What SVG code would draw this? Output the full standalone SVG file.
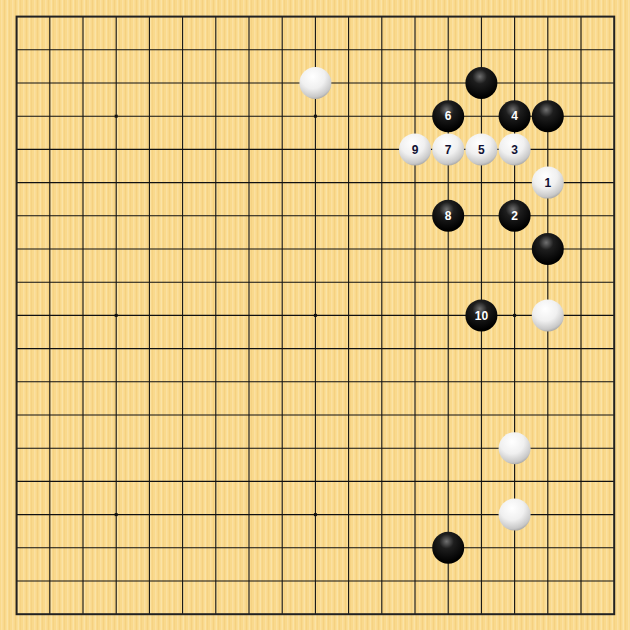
<svg xmlns="http://www.w3.org/2000/svg" width="630" height="630" viewBox="0 0 630 630">
<defs>
<pattern id="wood" x="0" y="0" width="11" height="630" patternUnits="userSpaceOnUse">
<rect width="11" height="630" fill="#F9D98C"/>
<rect x="1" width="1.5" height="630" fill="#FBE0A0"/>
<rect x="4" width="1" height="630" fill="#F5D080"/>
<rect x="6.5" width="1.5" height="630" fill="#FBE3A6"/>
<rect x="9" width="1" height="630" fill="#F6D283"/>
</pattern>
<radialGradient id="gb" cx="0.45" cy="0.3" r="0.65">
<stop offset="0" stop-color="#707070"/>
<stop offset="0.35" stop-color="#1e1e1e"/>
<stop offset="1" stop-color="#000"/>
</radialGradient>
<radialGradient id="gw" cx="0.42" cy="0.3" r="0.75">
<stop offset="0" stop-color="#fff"/>
<stop offset="0.5" stop-color="#f0f0f0"/>
<stop offset="0.85" stop-color="#c8c8c8"/>
<stop offset="1" stop-color="#9a9a9a"/>
</radialGradient>
<style>
.g{stroke:#111;stroke-width:1.1;fill:none}
.b{fill:url(#gb)}
.w{fill:url(#gw)}
.s{fill:#111}
.n{font-family:"Liberation Sans",Arial,sans-serif;font-size:12px;font-weight:bold;text-anchor:middle}
.nb{fill:#fff}
.nw{fill:#111133}
</style>
</defs>
<rect width="630" height="630" fill="url(#wood)"/>
<g id="grid">
<path class="g" d="M16.6 49.8H614.2M16.6 83H614.2M16.6 116.2H614.2M16.6 149.4H614.2M16.6 182.6H614.2M16.6 215.8H614.2M16.6 249H614.2M16.6 282.2H614.2M16.6 315.4H614.2M16.6 348.6H614.2M16.6 381.8H614.2M16.6 415H614.2M16.6 448.2H614.2M16.6 481.4H614.2M16.6 514.6H614.2M16.6 547.8H614.2M16.6 581H614.2"/>
<path class="g" d="M49.8 16.6V614.2M83 16.6V614.2M116.2 16.6V614.2M149.4 16.6V614.2M182.6 16.6V614.2M215.8 16.6V614.2M249 16.6V614.2M282.2 16.6V614.2M315.4 16.6V614.2M348.6 16.6V614.2M381.8 16.6V614.2M415 16.6V614.2M448.2 16.6V614.2M481.4 16.6V614.2M514.6 16.6V614.2M547.8 16.6V614.2M581 16.6V614.2"/>
<rect x="16.6" y="16.6" width="597.6" height="597.6" fill="none" stroke="#222" stroke-width="2"/>
<g class="s">
<rect x="114.7" y="114.7" width="3" height="3"/><rect x="313.9" y="114.7" width="3" height="3"/><rect x="513.1" y="114.7" width="3" height="3"/>
<rect x="114.7" y="313.9" width="3" height="3"/><rect x="313.9" y="313.9" width="3" height="3"/><rect x="513.1" y="313.9" width="3" height="3"/>
<rect x="114.7" y="513.1" width="3" height="3"/><rect x="313.9" y="513.1" width="3" height="3"/><rect x="513.1" y="513.1" width="3" height="3"/>
</g>
</g>
<g id="stones">
<g id="w-j3"><circle class="w" cx="315.4" cy="83" r="16"/></g>
<g id="b-p3"><circle class="b" cx="481.4" cy="83" r="16"/></g>
<g id="b6"><circle class="b" cx="448.2" cy="116.2" r="16"/><text class="n nb" x="448.2" y="120.4">6</text></g>
<g id="b4"><circle class="b" cx="514.6" cy="116.2" r="16"/><text class="n nb" x="514.6" y="120.4">4</text></g>
<g id="b-r4"><circle class="b" cx="547.8" cy="116.2" r="16"/></g>
<g id="w9"><circle class="w" cx="415" cy="149.4" r="16"/><text class="n nw" x="415" y="153.6">9</text></g>
<g id="w7"><circle class="w" cx="448.2" cy="149.4" r="16"/><text class="n nw" x="448.2" y="153.6">7</text></g>
<g id="w5"><circle class="w" cx="481.4" cy="149.4" r="16"/><text class="n nw" x="481.4" y="153.6">5</text></g>
<g id="w3"><circle class="w" cx="514.6" cy="149.4" r="16"/><text class="n nw" x="514.6" y="153.6">3</text></g>
<g id="w1"><circle class="w" cx="547.8" cy="182.6" r="16"/><text class="n nw" x="547.8" y="186.8">1</text></g>
<g id="b8"><circle class="b" cx="448.2" cy="215.8" r="16"/><text class="n nb" x="448.2" y="220">8</text></g>
<g id="b2"><circle class="b" cx="514.6" cy="215.8" r="16"/><text class="n nb" x="514.6" y="220">2</text></g>
<g id="b-r8"><circle class="b" cx="547.8" cy="249" r="16"/></g>
<g id="b10"><circle class="b" cx="481.4" cy="315.4" r="16"/><text class="n nb" x="481.4" y="319.6">10</text></g>
<g id="w-r10"><circle class="w" cx="547.8" cy="315.4" r="16"/></g>
<g id="w-q14"><circle class="w" cx="514.6" cy="448.2" r="16"/></g>
<g id="w-q16"><circle class="w" cx="514.6" cy="514.6" r="16"/></g>
<g id="b-o17"><circle class="b" cx="448.2" cy="547.8" r="16"/></g>
</g>
</svg>
